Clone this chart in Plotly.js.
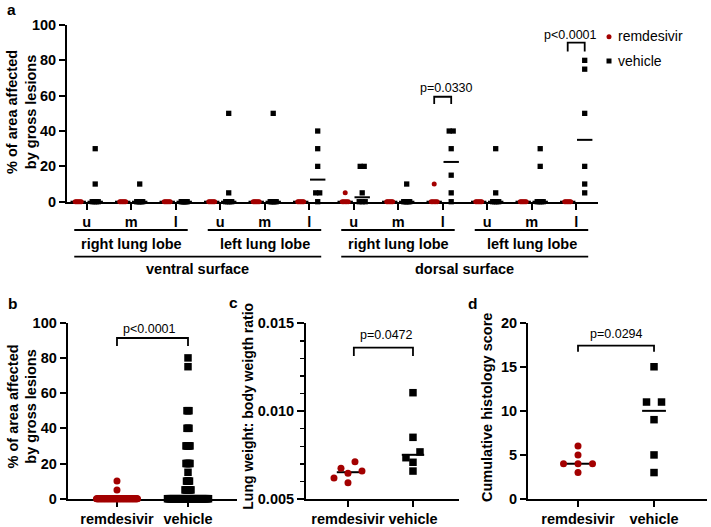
<!DOCTYPE html>
<html>
<head>
<meta charset="utf-8">
<script src="https://cdn.plot.ly/plotly-3.0.1.min.js"></script>
<style>html,body{margin:0;padding:0;background:#fff;}#chart{width:711px;height:527px;}</style>
</head>
<body>
<div id="chart"></div>
<script>
// ---------------- DATA ----------------
const lobeTicks = ['u','m','l','u','m','l','u','m','l','u','m','l'];
const groupNames = ['remdesivir','vehicle'];
// % of area affected by gross lesions, one array per lobe (u, m, l of right lobe, then u, m, l of left lobe)
const ventralRemdesivir = [
  [0,0,0,0,0,0],[0,0,0,0,0,0],[0,0,0,0,0,0],
  [0,0,0,0,0,0],[0,0,0,0,0,0],[0,0,0,0,0,0]
];
const ventralVehicle = [
  [30,10,0,0,0,0],[10,0,0,0,0,0],[0,0,0,0,0,0],
  [50,5,0,0,0,0],[50,0,0,0,0,0],[40,30,20,5,5,0]
];
const dorsalRemdesivir = [
  [5,0,0,0,0,0],[0,0,0,0,0,0],[10,0,0,0,0,0],
  [0,0,0,0,0,0],[0,0,0,0,0,0],[0,0,0,0,0,0]
];
const dorsalVehicle = [
  [20,20,5,0,0,0],[10,0,0,0,0,0],[40,40,30,15,5,0],
  [30,5,0,0,0,0],[30,20,0,0,0,0],[80,75,50,20,10,5]
];
const lungRatioRemdesivir = [0.00712,0.00659,0.00593,0.00646,0.00675,0.00620];
const lungRatioVehicle    = [0.01105,0.00851,0.00735,0.00768,0.00709,0.00659];
const histoRemdesivir = [6,5,4,4,4,3];
const histoVehicle    = [15,11,11,9,5,3];
const pA = ['p=0.0330','p<0.0001'];
const pB = 'p<0.0001', pC = 'p=0.0472', pD = 'p=0.0294';

// ---------------- STYLE / GEOMETRY ----------------
const W = 711, H = 527;
const FONT = '"Liberation Sans", Arial, Helvetica, sans-serif';
const RED = '#a30000', BLK = '#000000';
const boxA = {x0:67,  x1:598, y0:25,    y1:201.7, xr:[-0.443,11.49], yr:[0,100]};
const boxB = {x0:67.7,x1:237, y0:322.7, y1:498.7, xr:[-0.694,1.69],  yr:[0,100]};
const boxC = {x0:306, x1:459, y0:323.3, y1:499,   xr:[-0.646,1.708], yr:[0.005,0.015]};
const boxD = {x0:528, x1:707, y0:322.7, y1:499,   xr:[-0.658,1.697], yr:[0,20]};
[boxA,boxB,boxC,boxD].forEach(b=>{
  b.pxX = (b.x1-b.x0)/(b.xr[1]-b.xr[0]);
  b.pxY = (b.y1-b.y0)/(b.yr[1]-b.yr[0]);
});
const px = x => x/W, py = y => 1 - y/H;

function median(a){const s=a.slice().sort((p,q)=>p-q);const n=s.length;return n%2?s[(n-1)/2]:(s[n/2-1]+s[n/2])/2;}
// row-based scatter-dot spreading (points in the same row are centred side by side)
function spread(values, center, box, rowH, step, maxSpan){
  const idx = values.map((v,i)=>i).sort((a,b)=>values[b]-values[a]);
  const rows=[];
  idx.forEach(i=>{
    const p = values[i]*box.pxY;
    const r = rows[rows.length-1];
    if(r && Math.abs(r.first-p) < rowH) r.items.push(i); else rows.push({first:p, items:[i]});
  });
  const xs = new Array(values.length);
  rows.forEach(r=>{
    const n=r.items.length;
    const sp = n>1 ? Math.min(step, maxSpan/(n-1)) : 0;
    r.items.sort((a,b)=>values[a]-values[b]);
    r.items.forEach((i,k)=>{ xs[i] = center + (k-(n-1)/2)*sp/box.pxX; });
  });
  return xs;
}

const traces = [];
// ---- panel a ----
const lesionRem = ventralRemdesivir.concat(dorsalRemdesivir);
const lesionVeh = ventralVehicle.concat(dorsalVehicle);
const offA = 8.5/boxA.pxX;
function panelA(groups, sign){
  const xs=[], ys=[], mx=[], my=[];
  groups.forEach((vals,i)=>{
    const c = i + sign*offA;
    spread(vals, c, boxA, 1, 4, 6).forEach((x,k)=>{xs.push(x); ys.push(vals[k]);});
    mx.push(c); my.push(median(vals));
  });
  return {xs,ys,mx,my};
}
const aR = panelA(lesionRem,-1), aV = panelA(lesionVeh,1);
function medTrace(x,y,xa,ya,w){return {type:'scatter',mode:'markers',x:x,y:y,xaxis:xa,yaxis:ya,cliponaxis:false,hoverinfo:'skip',showlegend:false,
  marker:{symbol:'line-ew',size:w,color:BLK,line:{color:BLK,width:2}}};}
function ptTrace(x,y,xa,ya,sym,size,color,name){return {type:'scatter',mode:'markers',x:x,y:y,xaxis:xa,yaxis:ya,cliponaxis:false,name:name,showlegend:false,
  marker:{symbol:sym,size:size,color:color,line:{width:0}}};}
traces.push(medTrace(aR.mx,aR.my,'x','y',11));
traces.push(medTrace(aV.mx,aV.my,'x','y',11));
traces.push(ptTrace(aR.xs,aR.ys,'x','y','circle',5,RED,groupNames[0]));
traces.push(ptTrace(aV.xs,aV.ys,'x','y','square',5.3,BLK,groupNames[1]));

// ---- panel b ----
const allRem = [].concat(...lesionRem), allVeh = [].concat(...lesionVeh);
traces.push(medTrace([0,1],[median(allRem),median(allVeh)],'x2','y2',16));
traces.push(ptTrace(spread(allRem,0,boxB,1,1,41),allRem,'x2','y2','circle',7,RED,groupNames[0]));
traces.push(ptTrace(spread(allVeh,1,boxB,1,1,41),allVeh,'x2','y2','square',7.5,BLK,groupNames[1]));

// ---- panel c ----
traces.push(medTrace([0,1],[median(lungRatioRemdesivir),median(lungRatioVehicle)],'x3','y3',16));
traces.push(ptTrace(spread(lungRatioRemdesivir,0,boxC,7,14,100),lungRatioRemdesivir,'x3','y3','circle',7,RED,groupNames[0]));
traces.push(ptTrace(spread(lungRatioVehicle,1,boxC,7,14,100),lungRatioVehicle,'x3','y3','square',7.5,BLK,groupNames[1]));

// ---- panel d ----
traces.push(medTrace([0,1],[median(histoRemdesivir),median(histoVehicle)],'x4','y4',17));
traces.push(ptTrace(spread(histoRemdesivir,0,boxD,7,14.5,100),histoRemdesivir,'x4','y4','circle',7,RED,groupNames[0]));
traces.push(ptTrace(spread(histoVehicle,1,boxD,7,15,100),histoVehicle,'x4','y4','square',7.5,BLK,groupNames[1]));

// ---------------- LAYOUT ----------------
const tickFont = {family:FONT,size:14.5,color:BLK,weight:'bold'};
function axBase(){return {showline:true,linewidth:2,linecolor:BLK,ticks:'outside',ticklen:6,tickwidth:2,tickcolor:BLK,
  showgrid:false,zeroline:false,layer:'below traces',tickfont:tickFont,fixedrange:true,automargin:false};}
function xAx(b,anchor,vals,text){return Object.assign(axBase(),{domain:[px(b.x0),px(b.x1)],range:b.xr,anchor:anchor,
  tickmode:'array',tickvals:vals,ticktext:text,ticklabelstandoff:0});}
function yAx(b,anchor,extra){return Object.assign(axBase(),{domain:[py(b.y1),py(b.y0)],range:b.yr,anchor:anchor},extra||{});}

const annFont = (size,bold)=>({family:FONT,size:size,color:BLK,weight:bold?'bold':'normal'});
const anns = [];
function ann(text,x,y,xref,yref,opt){anns.push(Object.assign({text:text,x:x,y:y,xref:xref,yref:yref,showarrow:false,
  xanchor:'center',yanchor:'middle',font:annFont(14.5,true)},opt||{}));}
// panel letters
ann('a',px(12),py(9),'paper','paper',{font:annFont(15.5,true)});
ann('b',px(12.5),py(303),'paper','paper',{font:annFont(15.5,true)});
ann('c',px(233.5),py(302),'paper','paper',{font:annFont(15.5,true)});
ann('d',px(472),py(303),'paper','paper',{font:annFont(15.5,true)});
// y titles
ann('% of area affected<br>by gross lesions',px(21.5),py(112.5),'paper','paper',{textangle:-90});
ann('% of area affected<br>by gross lesions',px(21.5),py(407),'paper','paper',{textangle:-90});
ann('Lung weight: body weigth ratio',px(248),py(406.7),'paper','paper',{textangle:-90,font:annFont(14,true)});
ann('Cumulative histology score',px(487),py(408),'paper','paper',{textangle:-90});
// group labels panel a
ann('right lung lobe',1,py(244),'x','paper');
ann('left lung lobe',4,py(244),'x','paper');
ann('right lung lobe',7,py(244),'x','paper');
ann('left lung lobe',10,py(244),'x','paper');
ann('ventral surface',2.5,py(269),'x','paper');
ann('dorsal surface',8.5,py(269),'x','paper');
// p values
ann(pA[0],8.09,64.5,'x','y',{font:annFont(12.5,false)});
ann(pA[1],10.88,94.3,'x','y',{font:annFont(12.5,false)});
ann(pB,0.46,96.4,'x2','y2',{font:annFont(12.5,false)});
ann(pC,0.6,0.01433,'x3','y3',{font:annFont(12.5,false)});
ann(pD,0.51,18.7,'x4','y4',{font:annFont(12.5,false)});
// legend text
ann(groupNames[0],px(616),py(36.5),'paper','paper',{xanchor:'left',font:annFont(14,false)});
ann(groupNames[1],px(616),py(61),'paper','paper',{xanchor:'left',font:annFont(14,false)});

const shapes = [];
const ln = {color:BLK,width:1.8};
function bracket(xref,yref,xa,xb,yt,yb){shapes.push({type:'path',xref:xref,yref:yref,
  path:`M${xa},${yb} L${xa},${yt} L${xb},${yt} L${xb},${yb}`,line:ln});}
bracket('x','y',8-offA,8+offA,59.4,55.3);
bracket('x','y',11-offA,11+offA,90,85);
bracket('x2','y2',0,1,91.3,86.8);
bracket('x3','y3',0.09,1.0,0.01361,0.01314);
bracket('x4','y4',0,1,17.4,16.7);
function hline(xref,x0,x1,y){shapes.push({type:'line',xref:xref,yref:'paper',x0:x0,x1:x1,y0:y,y1:y,line:{color:BLK,width:1.8}});}
hline('x',-0.28,2.27,py(230)); hline('x',2.72,5.27,py(230));
hline('x',5.72,8.27,py(230));  hline('x',8.72,11.27,py(230));
hline('x',-0.28,5.27,py(256.7)); hline('x',5.72,11.27,py(256.7));
// legend symbols
shapes.push({type:'circle',xref:'paper',yref:'paper',x0:px(606.5),x1:px(611.5),y0:py(39.2),y1:py(34.2),fillcolor:RED,line:{width:0}});
shapes.push({type:'rect',xref:'paper',yref:'paper',x0:px(606.5),x1:px(611.5),y0:py(63.5),y1:py(58.5),fillcolor:BLK,line:{width:0}});

const layout = {
  width:W,height:H,autosize:false,margin:{l:0,r:0,t:0,b:0},
  paper_bgcolor:'#fff',plot_bgcolor:'rgba(0,0,0,0)',showlegend:false,
  font:{family:FONT,color:BLK},
  xaxis: xAx(boxA,'y',lobeTicks.map((t,i)=>i),lobeTicks),
  yaxis: yAx(boxA,'x',{tickmode:'linear',tick0:0,dtick:20}),
  xaxis2: xAx(boxB,'y2',[0,1],groupNames),
  yaxis2: yAx(boxB,'x2',{tickmode:'linear',tick0:0,dtick:20}),
  xaxis3: xAx(boxC,'y3',[0,1],groupNames),
  yaxis3: yAx(boxC,'x3',{tickmode:'array',tickvals:[0.005,0.010,0.015],ticktext:['0.005','0.010','0.015'],ticklen:7,
     minor:{ticks:'outside',tickmode:'linear',tick0:0.005,dtick:0.001,ticklen:4,tickwidth:1.5,tickcolor:BLK}}),
  xaxis4: xAx(boxD,'y4',[0,1],groupNames),
  yaxis4: yAx(boxD,'x4',{tickmode:'linear',tick0:0,dtick:5}),
  annotations:anns, shapes:shapes
};
Plotly.newPlot('chart',traces,layout,{staticPlot:true,displayModeBar:false});
</script>
</body>
</html>
